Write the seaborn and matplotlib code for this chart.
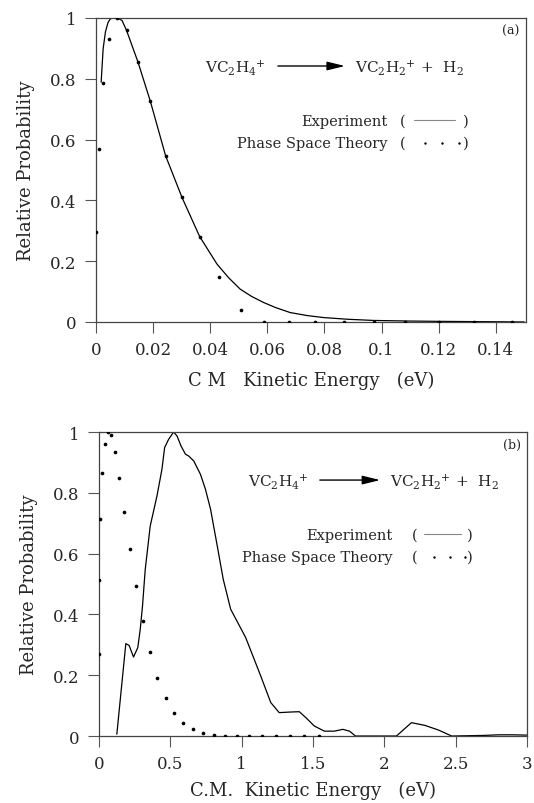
import numpy as np
import pandas as pd
import matplotlib
matplotlib.use("Agg")
import matplotlib.pyplot as plt
import seaborn as sns
from matplotlib.ticker import FixedLocator, FuncFormatter

# ---- panel (a): low-energy distribution ----
exp_a_energy = [0.0018, 0.0025, 0.0033, 0.0042, 0.0050, 0.0060, 0.0075, 0.0091,
                0.0107, 0.0147, 0.0190, 0.0244, 0.0301, 0.0363, 0.0424, 0.0465,
                0.0505, 0.0545, 0.0587, 0.0630, 0.0680, 0.0740, 0.0797, 0.0880,
                0.0972, 0.1100, 0.1200, 0.1500]
exp_a_prob = [0.789, 0.899, 0.954, 0.985, 0.997, 1.0, 1.0, 0.992,
              0.959, 0.855, 0.727, 0.546, 0.410, 0.281, 0.190, 0.145,
              0.108, 0.084, 0.064, 0.047, 0.031, 0.021, 0.0145, 0.009,
              0.005, 0.003, 0.002, 0.0]

pst_a_energy = [0.0001, 0.0012, 0.0025, 0.0047, 0.0075, 0.0107, 0.0147, 0.0190,
                0.0244, 0.0301, 0.0363, 0.0432, 0.0507, 0.0588, 0.0675, 0.0767,
                0.0867, 0.0972, 0.1083, 0.1201, 0.1324, 0.1456]
pst_a_prob = [0.297, 0.570, 0.786, 0.931, 1.0, 0.959, 0.855, 0.727,
              0.546, 0.410, 0.281, 0.147, 0.038, 0.0, 0.0, 0.0,
              0.0, 0.0, 0.0, 0.0, 0.0, 0.0]

# ---- panel (b): full-range distribution ----
exp_b_energy = [0.125, 0.188, 0.211, 0.242, 0.272, 0.289, 0.305, 0.324, 0.359,
                0.406, 0.441, 0.460, 0.488, 0.523, 0.547, 0.575, 0.606, 0.629,
                0.664, 0.711, 0.746, 0.782, 0.829, 0.871, 0.923, 1.028, 1.134,
                1.204, 1.263, 1.345, 1.404, 1.451, 1.509, 1.580, 1.650, 1.709,
                1.756, 1.798, 2.085, 2.190, 2.284, 2.378, 2.472, 2.700, 2.800,
                2.900, 3.000]
exp_b_prob = [0.006, 0.304, 0.298, 0.260, 0.291, 0.351, 0.428, 0.548, 0.691,
              0.789, 0.877, 0.949, 0.976, 1.0, 0.987, 0.954, 0.927, 0.921,
              0.905, 0.861, 0.812, 0.746, 0.625, 0.515, 0.417, 0.324, 0.197,
              0.110, 0.077, 0.079, 0.080, 0.060, 0.033, 0.016, 0.016, 0.022,
              0.016, 0.0, 0.0, 0.044, 0.035, 0.020, 0.0, 0.002, 0.004,
              0.004, 0.003]

pst_b_energy = [0.000, 0.002, 0.008, 0.021, 0.040, 0.060, 0.084, 0.111, 0.143,
                0.178, 0.218, 0.261, 0.305, 0.354, 0.408, 0.467, 0.526, 0.592,
                0.660, 0.732, 0.808, 0.885, 0.970, 1.054, 1.146, 1.239, 1.336,
                1.434, 1.540]
pst_b_prob = [0.269, 0.512, 0.713, 0.864, 0.962, 1.0, 0.990, 0.935, 0.848,
              0.737, 0.615, 0.493, 0.377, 0.276, 0.192, 0.126, 0.077, 0.044,
              0.022, 0.010, 0.003, 0.0, 0.0, 0.0, 0.0, 0.0, 0.0,
              0.0, 0.0]

y_ticks = [0, 0.2, 0.4, 0.6, 0.8, 1.0]
a_xticks = [0, 0.02, 0.04, 0.06, 0.08, 0.10, 0.12, 0.14]
b_xticks = [0, 0.5, 1.0, 1.5, 2.0, 2.5, 3.0]

sns.set_theme(style="ticks")
plt.rcParams["font.family"] = ["DejaVu Serif"]
plt.rcParams["mathtext.fontset"] = "dejavuserif"

fig = plt.figure(figsize=(5.34, 8.04), dpi=100)
ax_a = fig.add_axes([0.1798, 0.5983, 0.8052, 0.3781])
ax_b = fig.add_axes([0.1854, 0.0833, 0.8015, 0.3781])

def fmt(v, _):
    return f"{v:g}"

reaction_l = r"VC$_\mathregular{2}$H$_\mathregular{4}$$^\mathregular{+}$"
reaction_r = r"VC$_\mathregular{2}$H$_\mathregular{2}$$^\mathregular{+}$ +  H$_\mathregular{2}$"

def draw_panel(ax, ex, ey, px, py, xlim, xticks, xlabel, tag, lay):
    sns.lineplot(x=ex, y=ey, ax=ax, color="black", linewidth=0.9,
                 sort=False, estimator=None)
    sns.scatterplot(x=px, y=py, ax=ax, color="black", s=7,
                    edgecolor="black", linewidth=0, zorder=3)
    ax.set_xlim(*xlim)
    ax.set_ylim(0, 1)
    ax.xaxis.set_major_locator(FixedLocator(xticks))
    ax.yaxis.set_major_locator(FixedLocator(y_ticks))
    ax.xaxis.set_major_formatter(FuncFormatter(fmt))
    ax.yaxis.set_major_formatter(FuncFormatter(fmt))
    ax.tick_params(direction="out", length=8, width=0.8, color="#555555",
                   labelsize=12, pad=6)
    for sp in ax.spines.values():
        sp.set_linewidth(0.9)
        sp.set_color("#444444")
        sp.set_visible(True)
    ax.set_xlabel(xlabel, fontsize=13, labelpad=lay["xpad"])
    ax.set_ylabel("Relative Probability", fontsize=13, labelpad=11)

    tr = ax.transAxes
    ax.text(0.985, 0.958, tag, transform=tr, ha="right", va="center", fontsize=9)
    ax.text(lay["rx"], 0.842, reaction_l, transform=tr, ha="left",
            va="center", fontsize=11)
    ax.annotate("", xy=(lay["a1"], 0.842), xytext=(lay["a0"], 0.842),
                xycoords=tr, textcoords=tr,
                arrowprops=dict(arrowstyle="-|>,head_length=0.9,head_width=0.22",
                                color="black", lw=1.0, shrinkA=0, shrinkB=0))
    ax.text(lay["px"], 0.842, reaction_r, transform=tr, ha="left",
            va="center", fontsize=11)
    ax.text(lay["lx"], 0.662, "Experiment", transform=tr, ha="right",
            va="center", fontsize=10.5)
    ax.text(lay["lx"], 0.590, "Phase Space Theory", transform=tr, ha="right",
            va="center", fontsize=10.5)
    for yy in (0.662, 0.590):
        ax.text(lay["p0"], yy, "(", transform=tr, ha="left", va="center",
                fontsize=10.5)
        ax.text(lay["p1"], yy, ")", transform=tr, ha="right", va="center",
                fontsize=10.5)
    w = lay["p1"] - lay["p0"]
    ax.plot([lay["p0"] + 0.2 * w, lay["p0"] + 0.8 * w], [0.664, 0.664],
            transform=tr, color="#888888", lw=0.8)
    ax.scatter([lay["p0"] + f * w for f in (0.36, 0.62, 0.86)], [0.590] * 3,
               transform=tr, color="black", s=3, linewidth=0)

draw_panel(ax_a, exp_a_energy, exp_a_prob, pst_a_energy, pst_a_prob,
           (0, 0.1506), a_xticks, "C M   Kinetic Energy   (eV)", "(a)",
           dict(rx=0.253, a0=0.423, a1=0.579, px=0.602, lx=0.679, p0=0.707,
                p1=0.866, xpad=9))
draw_panel(ax_b, exp_b_energy, exp_b_prob, pst_b_energy, pst_b_prob,
           (0, 3.0), b_xticks, "C.M.  Kinetic Energy   (eV)", "(b)",
           dict(rx=0.348, a0=0.516, a1=0.657, px=0.680, lx=0.685, p0=0.731,
                p1=0.874, xpad=6))

fig.savefig("out.png", dpi=100)
